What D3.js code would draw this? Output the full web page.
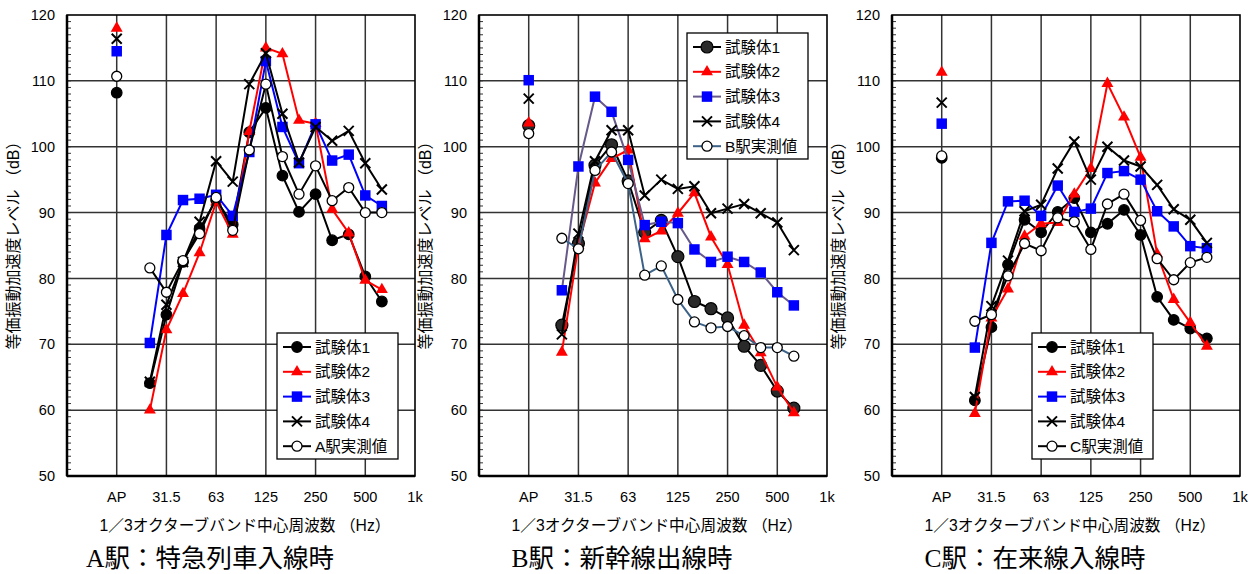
<!DOCTYPE html>
<html lang="ja">
<head>
<meta charset="UTF-8">
<title>等価振動加速度レベル</title>
<script src="https://d3js.org/d3.v7.min.js"></script>
<style>
  body { margin: 0; background: #fff; }
  svg { display: block; font-family: "Liberation Sans", Arial, "Noto Sans CJK JP", sans-serif; }
</style>
</head>
<body>
<svg id="chart" width="1257" height="574"></svg>
<script>
// x slots: three empty slots, AP, then 1/3 octave bands up to 1k
const slots = ["s0", "s1", "s2", "AP", "20", "25", "31.5", "40", "50", "63", "80", "100",
  "125", "160", "200", "250", "315", "400", "500", "630", "800", "1k"];
const bands = ["25", "31.5", "40", "50", "63", "80", "100", "125", "160", "200", "250", "315", "400", "500", "630"];
const tickLabels = ["AP", "31.5", "63", "125", "250", "500", "1k"];
const gridBands = ["AP", "31.5", "63", "125", "250", "500"];
const yTicks = [50, 60, 70, 80, 90, 100, 110, 120];

const specimenNames = ["試験体1", "試験体2", "試験体3", "試験体4"];
const measuredNames = ["A駅実測値", "B駅実測値", "C駅実測値"];
const panelTitles = ["A駅：特急列車入線時", "B駅：新幹線出線時", "C駅：在来線入線時"];

// A駅 (AP values: 試験体1..4, 実測値)
const apA = [108.2, 118.0, 114.5, 116.4, 110.7];
const a1 = [64.1, 74.5, 82.5, 87.5, 91.9, 88.2, 102.2, 105.9, 95.6, 90.1, 92.8, 85.8, 86.7, 80.3, 76.5];
const a2 = [60.0, 72.2, 77.7, 83.9, 91.6, 86.7, 102.3, 115.0, 114.1, 104.0, 103.5, 90.5, 86.9, 79.7, 78.3];
const a3 = [70.2, 86.6, 91.9, 92.1, 92.7, 89.5, 99.2, 113.0, 103.0, 97.5, 103.4, 97.9, 98.8, 92.6, 91.0];
const a4 = [64.3, 76.0, 82.5, 88.6, 97.8, 94.7, 109.5, 114.2, 105.0, 97.6, 103.0, 100.9, 102.4, 97.5, 93.5];
const aM = [81.6, 77.9, 82.7, 86.8, 92.3, 87.3, 99.5, 109.5, 98.5, 92.8, 97.1, 91.8, 93.8, 90.0, 90.0];

// B駅
const apB = [103.2, 103.6, 110.1, 107.3, 102.0];
const b1 = [72.9, 85.3, 97.2, 100.3, 94.8, 87.0, 88.8, 83.3, 76.5, 75.4, 74.0, 69.7, 66.8, 62.9, 60.3];
const b2 = [68.8, 85.0, 94.5, 98.2, 99.5, 86.0, 87.2, 89.9, 93.0, 86.3, 82.1, 72.9, 68.7, 63.5, 59.6];
const b3 = [78.2, 97.0, 107.6, 105.3, 98.0, 88.1, 88.6, 88.4, 84.4, 82.5, 83.3, 82.5, 80.9, 77.9, 75.9];
const b4 = [71.5, 86.8, 97.8, 102.5, 102.5, 92.6, 95.0, 93.6, 94.0, 89.9, 90.6, 91.3, 89.9, 88.5, 84.3];
const bM = [86.1, 84.5, 96.4, 99.2, 94.4, 80.5, 81.9, 76.8, 73.4, 72.5, 72.7, 71.3, 69.5, 69.5, 68.2];

// C駅
const apC = [98.3, 111.3, 103.5, 106.7, 98.6];
const c1 = [61.5, 72.6, 82.1, 88.9, 87.0, 90.1, 92.2, 87.0, 88.3, 90.4, 86.6, 77.2, 73.7, 72.4, 70.9];
const c2 = [59.5, 74.0, 78.4, 86.4, 88.3, 88.5, 92.8, 96.7, 109.6, 104.5, 98.4, 83.7, 76.8, 73.3, 69.7];
const c3 = [69.5, 85.4, 91.7, 91.8, 89.5, 94.1, 90.1, 90.6, 96.0, 96.3, 95.0, 90.2, 87.9, 84.9, 84.6];
const c4 = [62.0, 75.8, 82.7, 90.2, 91.2, 96.7, 100.8, 95.0, 100.0, 97.9, 97.0, 94.2, 90.5, 88.9, 85.4];
const cM = [73.5, 74.5, 80.4, 85.3, 84.2, 89.2, 88.6, 84.4, 91.3, 92.8, 88.8, 83.0, 79.8, 82.4, 83.2];

const panels = [
  { ap: apA, series: [a1, a2, a3, a4, aM], left: 67, legend: [210, 333], lines: ["#000", "#ff0000", "#0000ff", "#000", "#000"] },
  { ap: apB, series: [b1, b2, b3, b4, bM], left: 479, legend: [208, 33], lines: ["#000", "#ff0000", "#67598a", "#000", "#3d6288"] },
  { ap: apC, series: [c1, c2, c3, c4, cM], left: 892, legend: [140, 333], lines: ["#000", "#ff0000", "#0000ff", "#000", "#000"] }
];

const plotTop = 15, plotW = 348, plotH = 461;

const svg = d3.select("#chart");

const x = d3.scalePoint().domain(slots).range([0, plotW]).padding(0);
const y = d3.scaleLinear().domain([50, 120]).range([plotH, 0]);

// draw one marker of series k into g at (px, py)
function marker(g, k, px, py, bigCircle) {
  if (k === 0) {
    g.append("circle").attr("cx", px).attr("cy", py).attr("r", bigCircle ? 6 : 5.3)
      .attr("fill", bigCircle ? "#2a2a2a" : "#000").attr("stroke", "#000").attr("stroke-width", 1.2);
  } else if (k === 1) {
    g.append("path").attr("d", d3.symbol(d3.symbolTriangle, 62)())
      .attr("transform", `translate(${px},${py})`).attr("fill", "#ff0000");
  } else if (k === 2) {
    g.append("path").attr("d", d3.symbol(d3.symbolSquare, 110)())
      .attr("transform", `translate(${px},${py})`).attr("fill", "#0000ff");
  } else if (k === 3) {
    const s = 5;
    g.append("path").attr("d", `M${px - s},${py - s}L${px + s},${py + s}M${px - s},${py + s}L${px + s},${py - s}`)
      .attr("stroke", "#000").attr("stroke-width", 2).attr("fill", "none");
  } else {
    g.append("circle").attr("cx", px).attr("cy", py).attr("r", 5)
      .attr("fill", "#fff").attr("stroke", "#000").attr("stroke-width", 1.3);
  }
}

panels.forEach(function (p, i) {
  const g = svg.append("g").attr("transform", `translate(${p.left},${plotTop})`);

  // horizontal grid
  g.selectAll(".hg").data(yTicks.slice(1, -1)).enter().append("line")
    .attr("x1", 0).attr("x2", plotW)
    .attr("y1", d => y(d)).attr("y2", d => y(d))
    .attr("stroke", "#333").attr("stroke-width", 1.5);

  // vertical grid
  g.selectAll(".vg").data(gridBands).enter().append("line")
    .attr("x1", d => x(d)).attr("x2", d => x(d))
    .attr("y1", 0).attr("y2", plotH)
    .attr("stroke", "#333").attr("stroke-width", 1.5);

  // minor ticks on y axis
  g.selectAll(".mt").data(d3.range(51, 120)).enter().append("line")
    .attr("x1", 0).attr("x2", 4)
    .attr("y1", d => y(d)).attr("y2", d => y(d))
    .attr("stroke", "#333").attr("stroke-width", 1);

  // frame
  g.append("rect").attr("width", plotW).attr("height", plotH)
    .attr("fill", "none").attr("stroke", "#000").attr("stroke-width", 1.6);
  g.append("line").attr("x1", 0).attr("x2", plotW).attr("y1", plotH).attr("y2", plotH)
    .attr("stroke", "#000").attr("stroke-width", 2.5);
  g.append("line").attr("x1", 0).attr("x2", 0).attr("y1", 0).attr("y2", plotH)
    .attr("stroke", "#000").attr("stroke-width", 2.5);

  // y tick labels
  g.selectAll(".yl").data(yTicks).enter().append("text")
    .attr("x", -12).attr("y", d => y(d)).attr("dy", "0.35em")
    .attr("text-anchor", "end").attr("font-size", 14.5).text(d => d);

  // x tick labels
  g.selectAll(".xl").data(tickLabels).enter().append("text")
    .attr("x", d => x(d)).attr("y", plotH + 26)
    .attr("text-anchor", "middle").attr("font-size", 14.5).text(d => d);

  // axis titles
  g.append("text").attr("x", plotW / 2 + 4).attr("y", plotH + 55)
    .attr("text-anchor", "middle").attr("font-size", 15.7)
    .text("1／3オクターブバンド中心周波数 （Hz）");
  g.append("text").attr("transform", `translate(-54,${plotH / 2 - 4}) rotate(-90)`)
    .attr("text-anchor", "middle").attr("dy", "0.35em").attr("font-size", 16)
    .text("等価振動加速度レベル （dB）");

  // panel title
  svg.append("text").attr("x", p.left + plotW / 2 - 31).attr("y", 567)
    .attr("text-anchor", "middle").attr("font-size", 25.5)
    .attr("font-family", "'Liberation Serif', 'Noto Sans CJK JP', serif")
    .text(panelTitles[i]);

  // series lines and markers
  const line = d3.line().x((d, j) => x(bands[j])).y(d => y(d));
  p.series.forEach(function (vals, k) {
    g.append("path").datum(vals).attr("d", line)
      .attr("fill", "none").attr("stroke", p.lines[k]).attr("stroke-width", 2);
    const mg = g.append("g");
    vals.forEach((v, j) => marker(mg, k, x(bands[j]), y(v), i === 1));
    marker(mg, k, x("AP"), y(p.ap[k]), i === 1);
  });

  // legend
  const lg = g.append("g").attr("transform", `translate(${p.legend[0]},${p.legend[1] - plotTop})`);
  lg.append("rect").attr("width", 121).attr("height", 126)
    .attr("fill", "#fff").attr("stroke", "#000").attr("stroke-width", 1.3);
  const names = specimenNames.concat([measuredNames[i]]);
  names.forEach(function (name, k) {
    const ly = 14 + k * 24.8;
    lg.append("line").attr("x1", 6).attr("x2", 34).attr("y1", ly).attr("y2", ly)
      .attr("stroke", p.lines[k]).attr("stroke-width", 2);
    marker(lg, k, 20, ly, i === 1);
    lg.append("text").attr("x", 38).attr("y", ly).attr("dy", "0.36em")
      .attr("font-size", 15.5).text(name);
  });
});
</script>
</body>
</html>
